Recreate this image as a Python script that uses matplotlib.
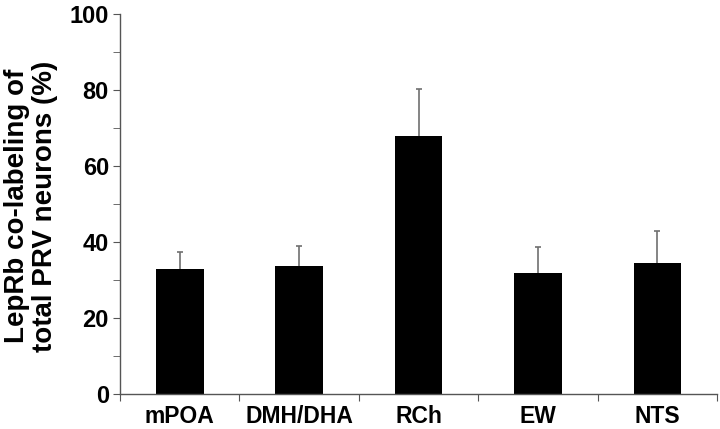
import numpy as np
import matplotlib
matplotlib.use('Agg')
import matplotlib.pyplot as plt

regions = ['mPOA', 'DMH/DHA', 'RCh', 'EW', 'NTS']
means = [32.9, 33.6, 67.9, 31.8, 34.6]
errors = [4.5, 5.4, 12.4, 6.9, 8.3]

plt.rcParams['font.family'] = ['Liberation Sans', 'DejaVu Sans']
plt.rcParams['font.weight'] = 'bold'

fig = plt.figure(figsize=(7.2, 4.29), dpi=100)
ax = fig.add_axes([0.1667, 0.0816, 0.8293, 0.8858])

x = np.arange(len(regions))
ax.bar(x, means, width=0.4, color='black', zorder=2)
eb = ax.errorbar(x, means, yerr=[np.zeros(len(errors)), errors], fmt='none',
                 ecolor='#707070', elinewidth=1.2, capsize=2.5, capthick=1.2, zorder=1)
# only keep the upper cap
eb[1][0].remove()

ax.set_xlim(-0.5, len(regions) - 0.5)
ax.set_ylim(0, 100)
ax.set_yticks(np.arange(0, 101, 20))
ax.set_yticks(np.arange(10, 100, 20), minor=True)
ax.set_xticks(np.arange(-0.5, len(regions), 1))
ax.set_xticklabels([])
ax.set_xticks(x, minor=True)
ax.set_xticklabels(regions, minor=True, fontsize=16.5, fontweight='bold')
ax.tick_params(axis='x', which='minor', length=0, pad=8)
ax.tick_params(axis='x', which='major', direction='out', length=5, color='#555555')
ax.tick_params(axis='y', which='both', direction='out', length=5, color='#555555',
               labelsize=17, pad=3)
for lab in ax.get_yticklabels():
    lab.set_fontweight('bold')

for s in ['top', 'right']:
    ax.spines[s].set_visible(False)
for s in ['left', 'bottom']:
    ax.spines[s].set_color('#555555')
    ax.spines[s].set_linewidth(1)

ax.set_ylabel('LepRb co-labeling of\ntotal PRV neurons (%)', fontsize=20,
              fontweight='bold', linespacing=1.1)
ax.yaxis.set_label_coords(-0.104, 0.495)

fig.savefig('out.png', dpi=100)
